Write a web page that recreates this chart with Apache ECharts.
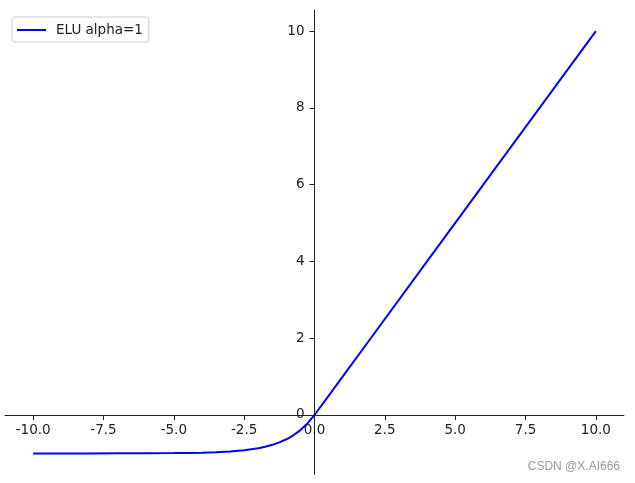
<!DOCTYPE html>
<html>
<head>
<meta charset="utf-8">
<script src="https://cdn.jsdelivr.net/npm/echarts@6/dist/echarts.min.js"></script>
<style>
  html, body { margin: 0; padding: 0; background: #fff; }
  #chart { width: 635px; height: 483px; }
</style>
</head>
<body>
<div id="chart"></div>
<script>
// values
const xValues = [-10, -9, -8, -7, -6, -5, -4.5, -4, -3.5, -3, -2.5, -2, -1.75, -1.5, -1.25, -1, -0.75, -0.5, -0.25, 0, 0.5, 1, 2, 4, 6, 8, 10];
const yValues = [-1.0, -1.0, -1.0, -0.999, -0.998, -0.993, -0.989, -0.982, -0.970, -0.950, -0.918, -0.865, -0.826, -0.777, -0.713, -0.632, -0.528, -0.393, -0.221, 0, 0.5, 1, 2, 4, 6, 8, 10];
const xTicks = [-10, -7.5, -5, -2.5, 0, 2.5, 5, 7.5, 10];
const yTicks = [0, 2, 4, 6, 8, 10];
const seriesName = "ELU alpha=1";

const chart = echarts.init(document.getElementById("chart"));
const font = "DejaVu Sans";
const axisColor = "#222";
const gridPad = { left: 5, right: 11, top: 10, bottom: 8.5 };

const option = {
  animation: false,
  textStyle: { fontFamily: font },
  grid: {
    ...gridPad,
    containLabel: false,
    outerBoundsMode: "none",
  },
  legend: {
    left: 12,
    top: 17,
    padding: [6, 6, 5, 5],
    borderColor: "#ccc",
    borderWidth: 1,
    borderRadius: 3,
    icon: "rect",
    itemWidth: 29,
    itemHeight: 2,
    itemGap: 10,
    textStyle: {
      fontFamily: font,
      fontSize: 13.5,
      color: "#222",
      padding: [0, 0, 0, 5],
    },
    data: [seriesName],
  },
  xAxis: {
    type: "value",
    min: -11,
    max: 11,
    offset: 0,
    splitLine: { show: false },
    axisLine: { onZero: false, lineStyle: { color: axisColor, width: 1 } },
    axisTick: {
      show: true,
      length: 5,
      customValues: xTicks,
      lineStyle: { color: axisColor },
    },
    axisLabel: {
      customValues: xTicks,
      margin: 9,
      fontFamily: font,
      fontSize: 13.5,
      color: "#222",
      formatter: (v) => Number(v).toFixed(1),
    },
  },
  yAxis: {
    type: "value",
    min: -1.55,
    max: 10.55,
    offset: 0,
    splitLine: { show: false },
    axisLine: { onZero: false, lineStyle: { color: axisColor, width: 1 } },
    axisTick: {
      show: true,
      length: 5,
      customValues: yTicks,
      lineStyle: { color: axisColor },
    },
    axisLabel: {
      customValues: yTicks,
      margin: 10,
      fontFamily: font,
      fontSize: 13.5,
      color: "#222",
      formatter: (v) => String(Math.round(Number(v))),
    },
  },
  graphic: [
    {
      type: "text",
      right: 15,
      top: 461,
      style: {
        text: "CSDN @X.AI666",
        fontFamily: "Liberation Sans",
        fontSize: 12,
        fill: "#999",
      },
    },
  ],
  series: [
    {
      name: seriesName,
      type: "line",
      data: xValues.map((x, i) => [x, yValues[i]]),
      showSymbol: false,
      smooth: false,
      color: "#0000ff",
      lineStyle: { width: 2, color: "#0000ff" },
    },
  ],
};

chart.setOption(option);

// move both axes onto the origin (spines crossing at 0, 0)
const origin = chart.convertToPixel({ gridIndex: 0 }, [0, 0]);
const H = chart.getHeight();
chart.setOption({
  xAxis: { offset: origin[1] - (H - gridPad.bottom) },
  yAxis: { offset: gridPad.left - origin[0] },
});
</script>
</body>
</html>
